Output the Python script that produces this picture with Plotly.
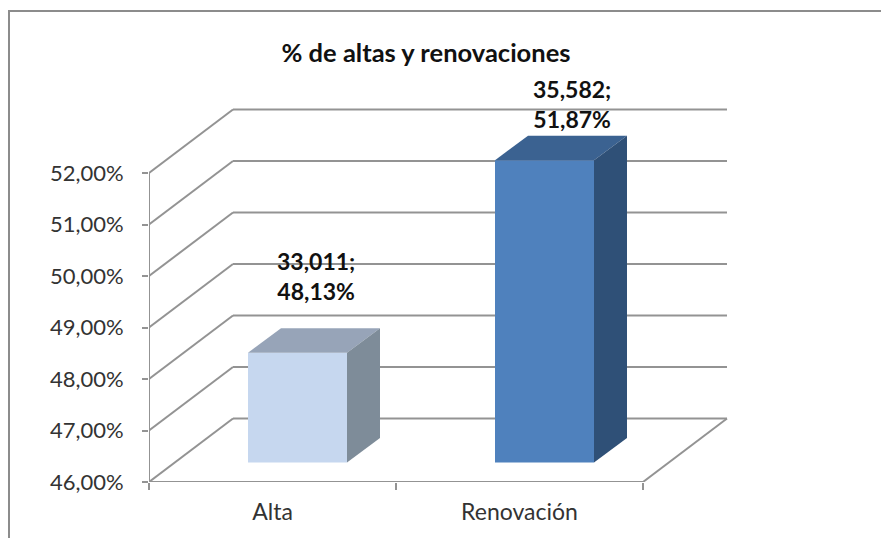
import plotly.graph_objects as go

categories = ["Alta", "Renovación"]
percentages = [48.13, 51.87]
data_labels = ["33,011;<br>48,13%", "35,582;<br>51,87%"]
y_ticks = [46, 47, 48, 49, 50, 51, 52]
y_tick_labels = ["46,00%", "47,00%", "48,00%", "49,00%", "50,00%", "51,00%", "52,00%"]
title_text = "% de altas y renovaciones"

front_colors = ["#C6D7EF", "#4F81BD"]
top_colors = ["#97A4B8", "#3B6291"]
side_colors = ["#7E8C99", "#2F5077"]
GRID = "#939393"

# The page has an 8 px body margin, so figure pixels = window pixels - 8
PAGE = 8
W, H = 881, 530
L, R, T, B = 141, 149, 92, 56
PX_X = 247.0      # px per category
PX_Y = 51.5       # px per percentage point
X0, X1 = -0.5, -0.5 + (W - L - R) / PX_X
Y0, Y1 = 46, 46 + (H - T - B) / PX_Y
WALL_DX, WALL_DY = 84 / PX_X, 63.5 / PX_Y
BAR_W = 99 / PX_X
BAR_SHIFT = 25 / PX_X
BAR_LIFT = 19.5 / PX_Y
BAR_DX, BAR_DY = 33 / PX_X, 24.5 / PX_Y

fig = go.Figure()
shapes = []
for v in y_ticks:
    xs = [X0, X0 + WALL_DX, 1.5 + WALL_DX]
    ys = [v, v + WALL_DY, v + WALL_DY]
    for i in range(2):
        shapes.append(dict(type="line", xref="x", yref="y", layer="below",
                           x0=xs[i], y0=ys[i], x1=xs[i + 1], y1=ys[i + 1],
                           line=dict(color=GRID, width=2)))
shapes.append(dict(type="line", xref="x", yref="y", layer="below",
                   x0=1.5, y0=46, x1=1.5 + WALL_DX, y1=46 + WALL_DY,
                   line=dict(color=GRID, width=2)))
# outer frame of the picture
fx = lambda p: (p - PAGE - L) / (W - L - R)
fy = lambda p: 1 - (p - PAGE - T) / (H - T - B)
shapes.append(dict(type="path", xref="paper", yref="paper", layer="below",
                   path=f"M {fx(9)} {fy(538)} L {fx(9)} {fy(11)} L {fx(889)} {fy(11)}",
                   line=dict(color="#8C8C8C", width=2)))

# axis lines
fig.add_trace(go.Scatter(x=[X0, X0, 1.5], y=[y_ticks[-1], 46, 46], mode="lines", cliponaxis=False,
                         line=dict(color=GRID, width=2), hoverinfo="skip", showlegend=False))

# bar fronts
fig.add_trace(go.Bar(x=[i + BAR_SHIFT for i in range(len(categories))],
                     y=[v - 46 for v in percentages],
                     base=46 + BAR_LIFT, width=BAR_W,
                     marker=dict(color=front_colors, line=dict(width=0)),
                     hoverinfo="skip", showlegend=False))

# bar tops and sides
for i, v in enumerate(percentages):
    xl = i + BAR_SHIFT - BAR_W / 2
    xr = i + BAR_SHIFT + BAR_W / 2
    bot = 46 + BAR_LIFT
    top = bot + (v - 46)
    fig.add_trace(go.Scatter(x=[xl, xr, xr + BAR_DX, xl + BAR_DX, xl],
                             y=[top, top, top + BAR_DY, top + BAR_DY, top],
                             mode="lines", fill="toself", fillcolor=top_colors[i],
                             line=dict(width=0), hoverinfo="skip", showlegend=False))
    fig.add_trace(go.Scatter(x=[xr, xr + BAR_DX, xr + BAR_DX, xr, xr],
                             y=[top, top + BAR_DY, bot + BAR_DY, bot, top],
                             mode="lines", fill="toself", fillcolor=side_colors[i],
                             line=dict(width=0), hoverinfo="skip", showlegend=False))

# data labels
label_shift = [(18, 46), (27, 25)]
annotations = []
for i, v in enumerate(percentages):
    annotations.append(dict(x=i + BAR_SHIFT, y=v + BAR_LIFT, xref="x", yref="y",
                            text=f"<b>{data_labels[i]}</b>", showarrow=False,
                            xanchor="center", yanchor="bottom",
                            xshift=label_shift[i][0], yshift=label_shift[i][1],
                            font=dict(family="Lato", size=23, color="#111111")))

fig.update_layout(
    width=W, height=H, margin=dict(l=L, r=R, t=T, b=B, autoexpand=False),
    paper_bgcolor="white", plot_bgcolor="rgba(0,0,0,0)",
    title=dict(text=f"<b>{title_text}</b>", x=(426 - PAGE) / W, xanchor="center",
               y=1 - (53 - PAGE) / H, yanchor="middle",
               font=dict(family="Lato", size=25.5, color="#111111")),
    shapes=shapes, annotations=annotations, showlegend=False,
    xaxis=dict(range=[X0, X1], showgrid=False, zeroline=False, showline=False,
               tickmode="array", tickvals=[0, 1], ticktext=categories, ticks="",
               tickfont=dict(family="Lato", size=23, color="#333333"), ticklabelstandoff=14,
               minor=dict(tickmode="array", tickvals=[-0.5, 0.5, 1.5], ticks="outside",
                          ticklen=7, tickwidth=2, tickcolor=GRID)),
    yaxis=dict(range=[Y0, Y1], showgrid=False, zeroline=False, showline=False,
               tickmode="array", tickvals=y_ticks, ticktext=y_tick_labels,
               ticks="outside", ticklen=6, tickwidth=2, tickcolor=GRID,
               tickfont=dict(family="Lato", size=22, color="#333333"), ticklabelstandoff=14),
)
fig.write_html("out.html")
